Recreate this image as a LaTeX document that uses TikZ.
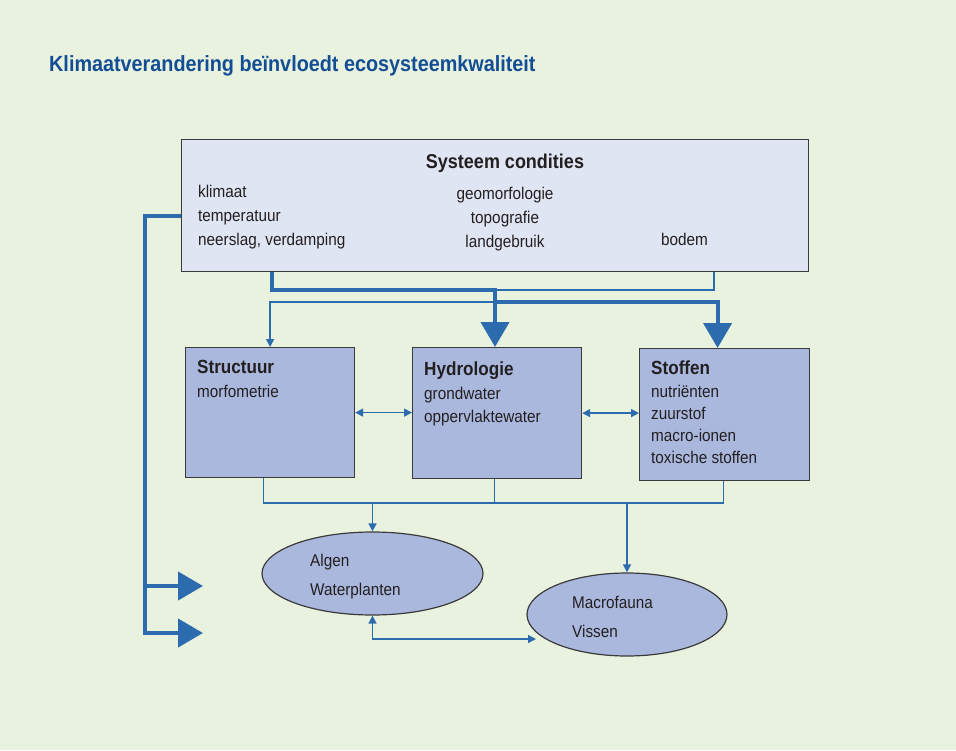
\documentclass[tikz,border=0pt]{standalone}
\usepackage{fontspec}
\setmainfont{Liberation Sans}[FakeStretch=0.9]
\usetikzlibrary{arrows.meta,shapes.geometric}
\definecolor{bg}{HTML}{E9F2DF}
\definecolor{sysfill}{HTML}{DFE5F3}
\definecolor{midfill}{HTML}{AAB8DE}
\definecolor{lblue}{HTML}{2C6BAE}
\definecolor{titlec}{HTML}{134D94}
\definecolor{txtc}{HTML}{231F20}
\definecolor{boxline}{HTML}{3A3A3A}
\tikzset{
  boxn/.style={draw=boxline, line width=1.2pt, inner sep=0pt, anchor=north west},
  elln/.style={ellipse, draw=boxline, line width=1.2pt, fill=midfill, inner sep=0pt},
  txt/.style={anchor=base west, inner sep=0pt, font=\fontsize{17}{20}\selectfont, text=txtc},
  txtc/.style={txt, anchor=base},
  hd/.style={txt, font=\fontsize{19}{22}\selectfont\bfseries},
  thinl/.style={draw=lblue, line width=1.5pt},
  thickl/.style={draw=lblue, line width=4.2pt},
  smallhead/.tip={Triangle[length=8pt,width=8pt]},
  bighead/.tip={Triangle[length=25pt,width=28pt]}
}
\begin{document}
\begin{tikzpicture}[x=1pt,y=-1pt]
\fill[bg] (0,0) rectangle (956,750);
\useasboundingbox (0,0) rectangle (956,750);

% title
\node[anchor=base west, inner sep=0pt, text=titlec, font=\fontsize{22}{26}\selectfont\bfseries] (title) at (49,71) {Klimaatverandering beïnvloedt ecosysteemkwaliteit};

% boxes
\node[boxn, fill=sysfill, minimum width=627pt, minimum height=132pt] (sys) at (181,139) {};
\node[boxn, fill=midfill, minimum width=169pt, minimum height=130pt] (str) at (185,347) {};
\node[boxn, fill=midfill, minimum width=169pt, minimum height=131pt] (hyd) at (412,347) {};
\node[boxn, fill=midfill, minimum width=170pt, minimum height=132pt] (sto) at (639,348) {};
\node[elln, minimum width=221pt, minimum height=83pt] (alg) at (372.5,573.5) {};
\node[elln, minimum width=200pt, minimum height=83pt] (mac) at (627,614.5) {};

% texts in system box
\node[hd, anchor=base, font=\fontsize{20}{24}\selectfont\bfseries] (sysh) at (505,168) {Systeem condities};
\node[txt] (s1) at (198,197) {klimaat};
\node[txt] (s2) at (198,221) {temperatuur};
\node[txt] (s3) at (198,245) {neerslag, verdamping};
\node[txtc] (s4) at (505,199) {geomorfologie};
\node[txtc] (s5) at (505,223) {topografie};
\node[txtc] (s6) at (505,247) {landgebruik};
\node[txt] (s7) at (661,245) {bodem};

% Structuur
\node[hd] (strh) at (197,373) {Structuur};
\node[txt] (str1) at (197,397) {morfometrie};
% Hydrologie
\node[hd] (hydh) at (424,375) {Hydrologie};
\node[txt] (hyd1) at (424,399) {grondwater};
\node[txt] (hyd2) at (424,422) {oppervlaktewater};
% Stoffen
\node[hd] (stoh) at (651,374) {Stoffen};
\node[txt] (sto1) at (651,397) {nutriënten};
\node[txt] (sto2) at (651,419) {zuurstof};
\node[txt] (sto3) at (651,441) {macro-ionen};
\node[txt] (sto4) at (651,463) {toxische stoffen};
% ellipses
\node[txt] (alg1) at (310,566) {Algen};
\node[txt] (alg2) at (310,595) {Waterplanten};
\node[txt] (mac1) at (572,608) {Macrofauna};
\node[txt] (mac2) at (572,637) {Vissen};

% helper coordinates
\coordinate (ja) at (495,290);
\coordinate (jb) at (495,302);
\coordinate (yc) at (0,503);
\coordinate (sb) at ([xshift=-1pt]sto.south);
\coordinate (hb) at ([xshift=-2.5pt]hyd.south);
\coordinate (stb) at ([xshift=-6.5pt]str.south);
\coordinate (stn) at ([xshift=-7pt]sto.north);
\coordinate (me) at (536,639);
\coordinate (lc) at (145,633);
\coordinate (la) at (203,586);
\coordinate (lb) at (203,633);

% top connectors
\draw[thinl] ([xshift=533pt]sys.south west) |- (ja);
\draw[thinl, -{smallhead}] (jb) -| (str.north);
\draw[thickl, -{bighead}] ([xshift=91pt]sys.south west) |- (ja) -- (ja |- hyd.north);
\draw[thickl, -{bighead}] (jb) -| (stn);

% between boxes
\draw[thinl, {smallhead}-{smallhead}] (str.east) -- (str.east -| hyd.west);
\draw[thinl, {smallhead}-{smallhead}] (hyd.east) -- (hyd.east -| sto.west);

% bottom bus
\draw[thinl] (stb) |- (sb |- yc) -- (sb);
\draw[thinl] (hb) -- (hb |- yc);
\draw[thinl, -{smallhead}] (alg.north |- yc) -- (alg.north);
\draw[thinl, -{smallhead}] (mac.north |- yc) -- (mac.north);
\draw[thinl, {smallhead}-{smallhead}] (alg.south) |- (me);

% left climate line
\draw[thickl, -{bighead}] ([yshift=-10pt]sys.west) -| (lc) -- (lb);
\draw[thickl, -{bighead}] (la -| lc) -- (la);
\end{tikzpicture}
\end{document}
